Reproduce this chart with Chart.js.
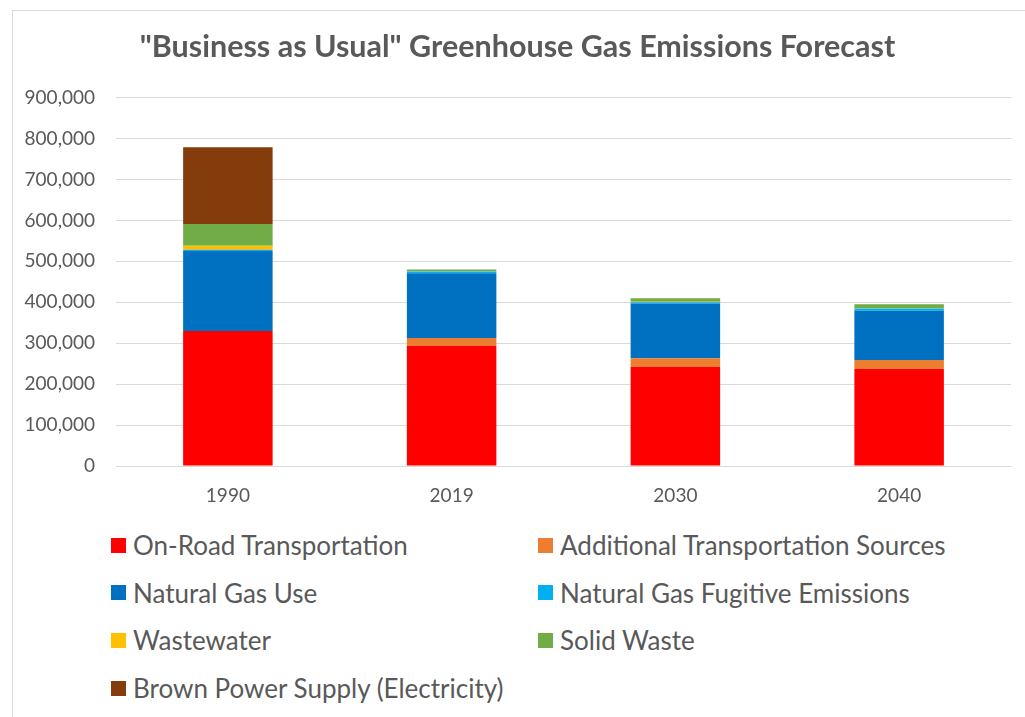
<!DOCTYPE html>
<html>
<head>
<meta charset="utf-8">
<script src="https://cdn.jsdelivr.net/npm/chart.js@4"></script>
<style>
  body { margin: 0; background: #fff; font-family: Lato, "Liberation Sans", sans-serif; }
  #frame { position: absolute; left: 12px; top: 10px; width: 1030px; height: 720px; border: 1px solid #d9d9d9; box-sizing: border-box; }
  #wrap { position: absolute; left: 0; top: 0; width: 1025px; height: 505px; }
  #legend { position: absolute; left: 111px; top: 529px; width: 900px; }
  .item { position: absolute; display: flex; align-items: center; color: #595959; font-size: 26px; white-space: nowrap; }
  .box { width: 15px; height: 15px; margin-right: 7px; }
</style>
</head>
<body>
<div id="frame"></div>
<div id="wrap"><canvas id="chart"></canvas></div>
<div id="legend"></div>
<script>
var years = ["1990", "2019", "2030", "2040"];

var onRoad = [330000, 293000, 242000, 237000];
var additionalTransport = [0, 20000, 21000, 22000];
var naturalGasUse = [195000, 158000, 134000, 120000];
var naturalGasFugitive = [3000, 4000, 3000, 6000];
var wastewater = [10000, 1000, 1000, 1000];
var solidWaste = [53000, 4000, 9000, 9000];
var brownPower = [188000, 0, 0, 0];

var yTicks = [0, 100000, 200000, 300000, 400000, 500000, 600000, 700000, 800000, 900000];

var grey = "#595959";

var chart = new Chart(document.getElementById("chart"), {
  type: "bar",
  data: {
    labels: years,
    datasets: [
      { label: "On-Road Transportation", data: onRoad, backgroundColor: "#FF0000" },
      { label: "Additional Transportation Sources", data: additionalTransport, backgroundColor: "#ED7D31" },
      { label: "Natural Gas Use", data: naturalGasUse, backgroundColor: "#0070C0" },
      { label: "Natural Gas Fugitive Emissions", data: naturalGasFugitive, backgroundColor: "#00B0F0" },
      { label: "Wastewater", data: wastewater, backgroundColor: "#FFC000" },
      { label: "Solid Waste", data: solidWaste, backgroundColor: "#70AD47" },
      { label: "Brown Power Supply (Electricity)", data: brownPower, backgroundColor: "#843C0C" },
    ],
  },
  options: {
    responsive: true,
    maintainAspectRatio: false,
    animation: false,
    datasets: {
      bar: { categoryPercentage: 1, barPercentage: 0.4 },
    },
    layout: { padding: { left: 24, right: 14, top: 0, bottom: 0 } },
    plugins: {
      legend: { display: false },
      tooltip: { enabled: false },
      title: {
        display: true,
        text: "\"Business as Usual\" Greenhouse Gas Emissions Forecast",
        color: grey,
        font: { family: "Lato", size: 30.5, weight: "bold" },
        padding: { top: 29, bottom: 32 },
      },
    },
    scales: {
      x: {
        stacked: true,
        grid: { display: false },
        border: { display: false },
        ticks: { color: grey, font: { family: "Lato", size: 19 }, padding: 10 },
        afterFit: function (scale) { scale.height = 39; },
      },
      y: {
        stacked: true,
        min: 0,
        max: 900000,
        afterBuildTicks: function (scale) {
          scale.ticks = yTicks.map(function (v) { return { value: v }; });
        },
        grid: { color: "#d9d9d9", lineWidth: 1, drawTicks: false },
        border: { display: false },
        ticks: {
          color: grey,
          font: { family: "Lato", size: 19 },
          padding: 21,
          callback: function (v) { return v.toLocaleString("en-US"); },
        },
        afterFit: function (scale) { scale.width = 92; },
      },
    },
  },
});

// legend in two columns, built from the chart's datasets
var legend = document.getElementById("legend");
chart.data.datasets.forEach(function (ds, i) {
  var item = document.createElement("div");
  item.className = "item";
  item.style.left = (i % 2 === 0 ? 0 : 427) + "px";
  item.style.top = (Math.floor(i / 2) * 47.7) + "px";
  var box = document.createElement("span");
  box.className = "box";
  box.style.background = ds.backgroundColor;
  item.appendChild(box);
  item.appendChild(document.createTextNode(ds.label));
  legend.appendChild(item);
});
</script>
</body>
</html>
